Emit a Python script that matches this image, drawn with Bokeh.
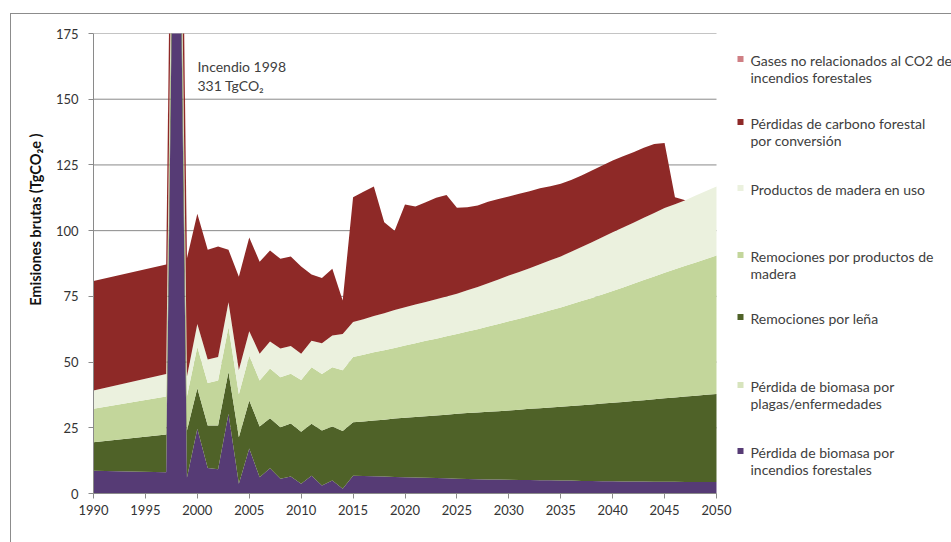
import math

from bokeh.embed import file_html
from bokeh.models import (ColumnDataSource, FixedTicker, Label, Range1d,
                          Title)
from bokeh.plotting import figure
from bokeh.resources import INLINE

# ---- data (TgCO2e per series, stacked) ----
years = [1990, 1997] + list(range(1998, 2051))

incendios = [8.7, 8.1, 331.0, 6.0, 24.6, 9.7, 9.2, 30.3, 3.7, 17.1,
             6.2, 9.6, 5.6, 6.5, 3.7, 6.8, 3.0, 4.9, 1.8, 6.8,
             6.7, 6.6, 6.5, 6.3, 6.2, 6.1, 6.0, 5.9, 5.8, 5.6,
             5.5, 5.4, 5.3, 5.3, 5.2, 5.1, 5.1, 5.0, 5.0, 4.9,
             4.9, 4.8, 4.8, 4.7, 4.7, 4.6, 4.6, 4.6, 4.5, 4.5,
             4.5, 4.4, 4.4, 4.4, 4.4]

plagas = [0.0, 0.0, 0.0, 0.0, 0.0, 0.0, 0.0, 0.0, 0.0, 0.0,
          0.0, 0.0, 0.0, 0.0, 0.0, 0.0, 0.0, 0.0, 0.0, 0.0,
          0.0, 0.0, 0.0, 0.0, 0.0, 0.0, 0.0, 0.0, 0.0, 0.0,
          0.0, 0.0, 0.0, 0.0, 0.0, 0.0, 0.0, 0.0, 0.0, 0.0,
          0.0, 0.0, 0.0, 0.0, 0.0, 0.0, 0.0, 0.0, 0.0, 0.0,
          0.0, 0.0, 0.0, 0.0, 0.0]

lena = [10.8, 14.3, 14.5, 18.0, 15.4, 16.2, 16.7, 16.0, 17.7, 18.3,
        19.3, 19.0, 19.6, 20.1, 19.8, 19.7, 21.0, 20.6, 22.0, 20.3,
        20.7, 21.2, 21.6, 22.2, 22.6, 23.0, 23.4, 23.8, 24.2, 24.7,
        25.1, 25.4, 25.8, 26.0, 26.4, 26.8, 27.1, 27.4, 27.7, 28.1,
        28.4, 28.8, 29.1, 29.5, 29.8, 30.2, 30.6, 30.9, 31.4, 31.7,
        32.0, 32.5, 32.8, 33.2, 33.5]

productos = [12.7, 14.5, 14.6, 13.0, 15.7, 16.1, 17.1, 17.0, 16.4, 17.0,
             17.5, 19.0, 19.0, 19.0, 19.7, 21.5, 21.5, 22.5, 23.1, 24.8,
             25.4, 25.9, 26.4, 26.9, 27.5, 28.1, 28.7, 29.2, 29.8, 30.4,
             31.0, 31.7, 32.4, 33.2, 33.9, 34.6, 35.3, 36.2, 37.0, 37.8,
             38.7, 39.6, 40.5, 41.5, 42.5, 43.6, 44.6, 45.7, 46.7, 47.8,
             48.8, 49.7, 50.7, 51.6, 52.6]

en_uso = [7.0, 8.6, 8.5, 7.5, 8.8, 9.0, 8.9, 9.5, 9.2, 9.3,
          10.2, 10.2, 11.0, 10.5, 10.0, 10.1, 11.7, 12.1, 13.8, 13.3,
          13.5, 13.8, 14.1, 14.4, 14.6, 14.7, 14.8, 15.0, 15.1, 15.3,
          15.7, 16.1, 16.5, 16.9, 17.4, 17.8, 18.2, 18.6, 19.0, 19.4,
          20.0, 20.6, 21.2, 21.8, 22.4, 22.8, 23.2, 23.7, 24.1, 24.6,
          24.7, 25.0, 25.5, 25.9, 26.3]

conversion = [41.6, 41.6, 40.0, 45.0, 41.9, 41.7, 42.1, 19.9, 35.5, 35.7,
              35.0, 34.6, 34.1, 34.1, 33.2, 25.2, 24.8, 25.4, 12.7, 47.5,
              48.5, 49.3, 34.6, 30.2, 39.0, 37.3, 37.9, 38.6, 38.7, 32.7,
              31.6, 31.0, 31.0, 30.6, 30.1, 29.7, 29.3, 28.9, 28.2, 27.6,
              27.3, 27.2, 27.3, 27.3, 27.3, 27.1, 26.8, 26.6, 26.3, 24.7,
              2.7, 0.0, 0.0, 0.0, 0.0]

gases = [0.0, 0.0, 15.0, 0.0, 0.0, 0.0, 0.0, 0.0, 0.0, 0.0,
         0.0, 0.0, 0.0, 0.0, 0.0, 0.0, 0.0, 0.0, 0.0, 0.0,
         0.0, 0.0, 0.0, 0.0, 0.0, 0.0, 0.0, 0.0, 0.0, 0.0,
         0.0, 0.0, 0.0, 0.0, 0.0, 0.0, 0.0, 0.0, 0.0, 0.0,
         0.0, 0.0, 0.0, 0.0, 0.0, 0.0, 0.0, 0.0, 0.0, 0.0,
         0.0, 0.0, 0.0, 0.0, 0.0]

# stacking order, bottom to top
stack_keys = ["incendios", "plagas", "lena", "productos", "en_uso",
              "conversion", "gases"]
stack_colors = ["#563B75", "#D7E4BD", "#4F6228", "#C3D69B", "#EBF1DE",
                "#8E2927", "#CF7F84"]
legend_lines = {
    "gases": ["Gases no relacionados al CO2 de", "incendios forestales"],
    "conversion": ["Pérdidas de carbono forestal", "por conversión"],
    "en_uso": ["Productos de madera en uso"],
    "productos": ["Remociones por productos de", "madera"],
    "lena": ["Remociones por leña"],
    "plagas": ["Pérdida de biomasa por", "plagas/enfermedades"],
    "incendios": ["Pérdida de biomasa por", "incendios forestales"],
}
legend_order = ["gases", "conversion", "en_uso", "productos", "lena",
                "plagas", "incendios"]

y_ticks = [0, 25, 50, 75, 100, 125, 150, 175]
x_ticks = [1990, 1995, 2000, 2005, 2010, 2015, 2020, 2025, 2030, 2035,
           2040, 2045, 2050]

source = ColumnDataSource(dict(year=years, incendios=incendios, plagas=plagas,
                               lena=lena, productos=productos, en_uso=en_uso,
                               conversion=conversion, gases=gases))

FONT = "Lato"
TEXT = "#404040"
AXIS = "#8A8A8A"
FRAME = "#8C8C8C"

W, H = 951, 542
LEFT, TOP, BOTTOM = 93, 33, 49
CHART_RIGHT = 716            # pixel where the year axis ends (2050)
X0, X1, Y0, Y1 = 1990, 2050, 0, 175
px_per_year = (CHART_RIGHT - LEFT) / (X1 - X0)
X_END = X1 + (W - CHART_RIGHT) / px_per_year   # room for the legend
fh = H - TOP - BOTTOM


def dx(px):
    return X0 + (px - LEFT) / px_per_year


def dy(py):
    return Y0 + (H - BOTTOM - py) * (Y1 - Y0) / fh


p = figure(width=W, height=H, output_backend="svg", toolbar_location=None,
           x_range=Range1d(X0, X_END), y_range=Range1d(Y0, Y1),
           min_border_left=LEFT, min_border_right=0,
           min_border_top=TOP, min_border_bottom=BOTTOM)
p.outline_line_color = None
p.background_fill_color = None
p.border_fill_color = None
# thin grey frame line along the top and the left of the chart box
p.styles = {
    "background-color": "white",
    "background-image": f"linear-gradient({FRAME}, {FRAME}), "
                        f"linear-gradient({FRAME}, {FRAME})",
    "background-repeat": "no-repeat",
    "background-position": "10px 13px, 10px 13px",
    "background-size": "100% 1px, 1px 100%",
}

# horizontal grid lines, limited to the year span
p.segment(x0=[X0] * len(y_ticks), x1=[X1] * len(y_ticks), y0=y_ticks,
          y1=y_ticks, line_color=AXIS, line_width=1)

renderers = p.varea_stack(stackers=stack_keys, x="year", source=source,
                          fill_color=stack_colors)

# axes
for ax in (p.xaxis[0], p.yaxis[0]):
    ax.axis_line_color = AXIS
    ax.major_tick_line_color = AXIS
    ax.major_tick_out = 5
    ax.major_tick_in = 0
    ax.minor_tick_line_color = None
    ax.major_label_text_font = FONT
    ax.major_label_text_font_size = "13px"
    ax.major_label_text_color = "#333333"
p.xaxis.ticker = FixedTicker(ticks=x_ticks)
p.yaxis.ticker = FixedTicker(ticks=y_ticks)
p.xaxis.bounds = (X0, X1)
p.yaxis.major_label_standoff = 10
p.xaxis.major_label_standoff = 6
p.xgrid.visible = False
p.ygrid.visible = False

# vertical axis title; its end sits 100 px below the top of the frame
p.add_layout(Title(text="Emisiones brutas (TgCO₂e )", align="right",
                   offset=100, standoff=18, text_font=FONT,
                   text_font_size="14.5px", text_font_style="bold",
                   text_color="#111111"), "left")

# note on the 1998 fire
for txt, py in (("Incendio 1998", 66), ("331 TgCO₂", 85)):
    p.add_layout(Label(x=dx(197), y=dy(py), text=txt, text_align="left",
                       text_baseline="middle", text_font=FONT,
                       text_font_size="14px", text_color=TEXT))

# legend, drawn to the right of the year axis
first_line_py = [60, 123, 189, 256, 318, 386, 452]
second_line_gap = 17
color_of = dict(zip(stack_keys, stack_colors))
p.rect(x=[dx(740)] * len(legend_order), y=[dy(py - 1.5) for py in first_line_py],
       width=6, height=6, width_units="screen", height_units="screen",
       fill_color=[color_of[k] for k in legend_order], line_color=None)
for k, py in zip(legend_order, first_line_py):
    for j, line in enumerate(legend_lines[k]):
        p.add_layout(Label(x=dx(750), y=dy(py + j * second_line_gap),
                           text=line, text_align="left",
                           text_baseline="middle", text_font=FONT,
                           text_font_size="14px", text_color=TEXT))

open("out.html", "w").write(file_html(p, INLINE))
